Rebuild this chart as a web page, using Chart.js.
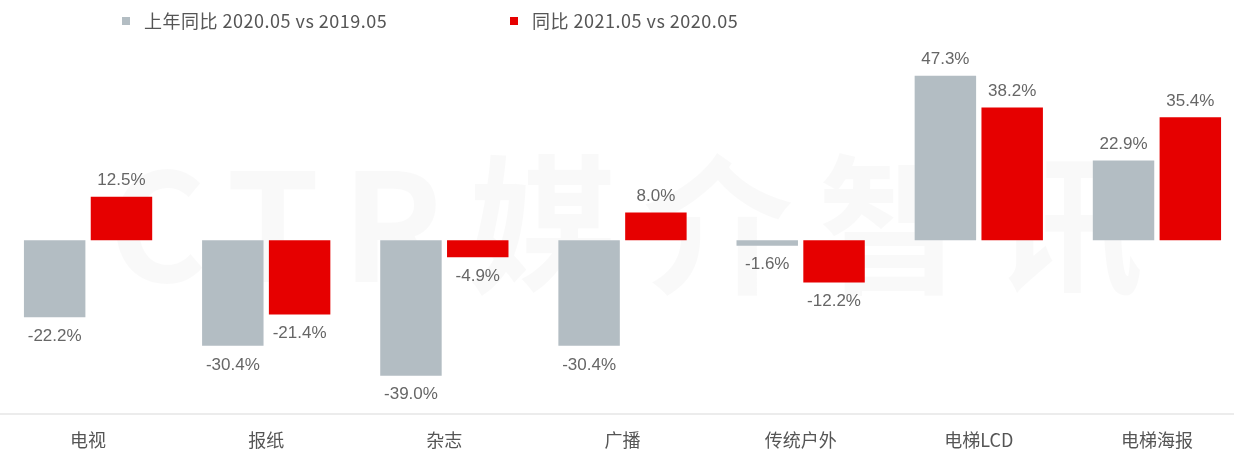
<!DOCTYPE html>
<html>
<head>
<meta charset="utf-8">
<script src="https://cdn.jsdelivr.net/npm/chart.js@4/dist/chart.umd.min.js"></script>
<style>
  html, body { margin: 0; padding: 0; background: #fff; overflow: hidden; width: 1234px; height: 454px; }
  #wrap { position: absolute; left: -2px; top: 0; width: 1250px; height: 454px; }
  .legend { position: absolute; top: 9px; font-family: "Noto Sans CJK SC", "Noto Sans", sans-serif; font-size: 18px; letter-spacing: 0.5px; color: #555; line-height: 22px; white-space: nowrap; }
  .legend i { display: inline-block; width: 8px; height: 8px; margin-right: 14px; vertical-align: 3px; }
</style>
</head>
<body>
<div id="wrap"><canvas id="c" width="1250" height="454"></canvas></div>
<div class="legend" style="left:122px"><i style="background:#B3BDC3"></i>上年同比 2020.05 vs 2019.05</div>
<div class="legend" style="left:510px"><i style="background:#E60000"></i>同比 2021.05 vs 2020.05</div>
<script>
const categories = ["电视", "报纸", "杂志", "广播", "传统户外", "电梯LCD", "电梯海报"];
const prevYoY = [-22.2, -30.4, -39.0, -30.4, -1.6, 47.3, 22.9];
const currYoY = [12.5, -21.4, -4.9, 8.0, -12.2, 38.2, 35.4];
const seriesNames = ["上年同比 2020.05 vs 2019.05", "同比 2021.05 vs 2020.05"];
const seriesColors = ["#B3BDC3", "#E60000"];

const watermark = {
  id: "watermark",
  beforeDatasetsDraw(chart) {
    const ctx = chart.ctx;
    ctx.save();
    ctx.fillStyle = "rgba(0,0,0,0.025)";
    ctx.textBaseline = "alphabetic";
    ctx.font = "bold 150px 'Noto Sans CJK SC', sans-serif";
    ctx.letterSpacing = "22px";
    ctx.fillText("CTR", 110, 282);
    ctx.letterSpacing = "25px";
    ctx.fillText("媒介智讯", 470, 282);
    ctx.restore();
  }
};

const valueLabels = {
  id: "valueLabels",
  afterDatasetsDraw(chart) {
    const ctx = chart.ctx;
    ctx.save();
    ctx.font = "17px 'Liberation Sans', Arial, sans-serif";
    ctx.fillStyle = "#666";
    ctx.textAlign = "center";
    ctx.textBaseline = "middle";
    chart.data.datasets.forEach((ds, di) => {
      const meta = chart.getDatasetMeta(di);
      meta.data.forEach((bar, i) => {
        const v = ds.data[i];
        const txt = v.toFixed(1) + "%";
        if (v >= 0) {
          ctx.fillText(txt, bar.x, bar.y - 16);
        } else {
          ctx.fillText(txt, bar.x, bar.y + 19);
        }
      });
    });
    ctx.restore();
  }
};

new Chart(document.getElementById("c"), {
  type: "bar",
  data: {
    labels: categories,
    datasets: [
      { label: seriesNames[0], data: prevYoY, backgroundColor: seriesColors[0] },
      { label: seriesNames[1], data: currYoY, backgroundColor: seriesColors[1] }
    ]
  },
  options: {
    responsive: false,
    animation: false,
    devicePixelRatio: 1,
    categoryPercentage: 0.75,
    barPercentage: 0.92,
    layout: { padding: { top: 49, bottom: 0, left: 1, right: 2 } },
    plugins: { legend: { display: false }, tooltip: { enabled: false } },
    scales: {
      x: {
        afterFit(scale) { scale.height = 40; },
        grid: { display: false, drawTicks: false },
        border: { display: true, color: "#ececec", width: 2 },
        ticks: { color: "#555", font: { size: 18, lineHeight: 1.2, family: "'Noto Sans CJK SC', sans-serif" }, padding: 15 }
      },
      y: {
        display: false,
        min: -50,
        max: 55
      }
    }
  },
  plugins: [watermark, valueLabels]
});
</script>
</body>
</html>
